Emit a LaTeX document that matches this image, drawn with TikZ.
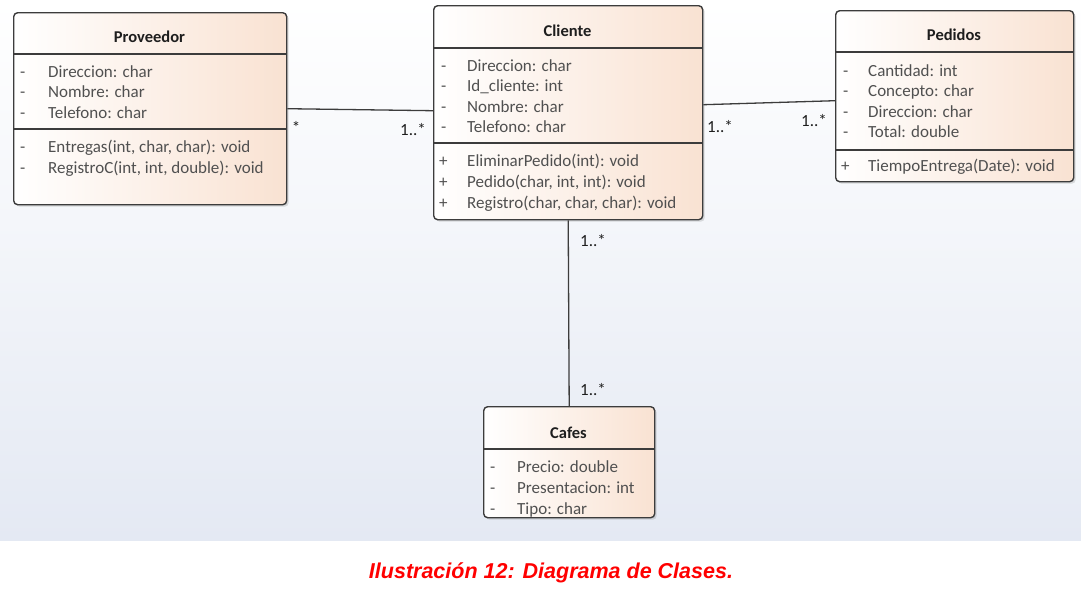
\documentclass[tikz,border=0pt]{standalone}
\usepackage{fontspec}
\setmainfont{Carlito}
\newfontfamily\capfont{Liberation Sans}
\usetikzlibrary{shadows,calc}
\definecolor{bgbot}{RGB}{228,233,243}
\definecolor{peach}{RGB}{249,226,210}
\definecolor{edge}{RGB}{60,60,60}
\definecolor{txt}{RGB}{80,80,80}
\definecolor{ttl}{RGB}{30,30,30}
\tikzset{
  classbox/.style={draw=edge, line width=1.4pt, rounded corners=4pt, left color=white, right color=peach,
    drop shadow={shadow xshift=2pt, shadow yshift=-2pt, opacity=0.25}, inner sep=0pt},
  divider/.style={draw=edge, line width=1.3pt},
  attr/.style={anchor=base west, inner sep=0pt, text=txt, font=\fontsize{17}{19}\selectfont},
  ctitle/.style={anchor=center, inner sep=0pt, text=ttl, font=\bfseries\fontsize{16.5}{18}\selectfont},
  assoc/.style={draw=edge, line width=1.3pt},
  mult/.style={inner sep=0pt, text=ttl, font=\fontsize{17}{19}\selectfont},
}
\begin{document}
\begin{tikzpicture}[x=1pt,y=-1pt]
\useasboundingbox (0,0) rectangle (1081,595);
\fill[white] (0,0) rectangle (1081,595);
\shade[top color=white, bottom color=bgbot] (0,0) rectangle (1081,540);

% Proveedor
\node[classbox, anchor=north west, minimum width=273pt, minimum height=192pt] (prov) at (13,12) {};
\draw[divider] (13,54) -- (286,54);
\draw[divider] (13,129) -- (286,129);
\node[ctitle] (provt) at (149.5,37) {Proveedor};
\node[attr] (pv1) at (20,77) {-};  \node[attr] (pa1) at (48,77) {Direccion: char};
\node[attr] (pv2) at (20,97) {-};  \node[attr] (pa2) at (48,97) {Nombre: char};
\node[attr] (pv3) at (20,118) {-}; \node[attr] (pa3) at (48,118) {Telefono: char};
\node[attr] (pv4) at (20,152) {-}; \node[attr] (pm1) at (48,152) {Entregas(int, char, char): void};
\node[attr] (pv5) at (20,173) {-}; \node[attr] (pm2) at (48,173) {RegistroC(int, int, double): void};

% Cliente
\node[classbox, anchor=north west, minimum width=269pt, minimum height=214pt] (cli) at (433,5) {};
\draw[divider] (433,48) -- (702,48);
\draw[divider] (433,143) -- (702,143);
\node[ctitle] (clit) at (567.5,31) {Cliente};
\node[attr] (cv1) at (441,71) {-};  \node[attr] (ca1) at (467,71) {Direccion: char};
\node[attr] (cv2) at (441,91) {-};  \node[attr] (ca2) at (467,91) {Id\_cliente: int};
\node[attr] (cv3) at (441,112) {-}; \node[attr] (ca3) at (467,112) {Nombre: char};
\node[attr] (cv4) at (441,132) {-}; \node[attr] (ca4) at (467,132) {Telefono: char};
\node[attr] (cv5) at (439,166) {+}; \node[attr] (cm1) at (467,166) {EliminarPedido(int): void};
\node[attr] (cv6) at (439,187) {+}; \node[attr] (cm2) at (467,187) {Pedido(char, int, int): void};
\node[attr] (cv7) at (439,208) {+}; \node[attr] (cm3) at (467,208) {Registro(char, char, char): void};

% Pedidos
\node[classbox, anchor=north west, minimum width=238pt, minimum height=171pt] (ped) at (835,10) {};
\draw[divider] (835,52) -- (1073,52);
\draw[divider] (835,150) -- (1073,150);
\node[ctitle] (pedt) at (954,35) {Pedidos};
\node[attr] (dv1) at (843,76) {-};  \node[attr] (da1) at (868,76) {Cantidad: int};
\node[attr] (dv2) at (843,96) {-};  \node[attr] (da2) at (868,96) {Concepto: char};
\node[attr] (dv3) at (843,117) {-}; \node[attr] (da3) at (868,117) {Direccion: char};
\node[attr] (dv4) at (843,137) {-}; \node[attr] (da4) at (868,137) {Total: double};
\node[attr] (dv5) at (841,171) {+}; \node[attr] (dm1) at (868,171) {TiempoEntrega(Date): void};

% Cafes
\node[classbox, anchor=north west, minimum width=171pt, minimum height=111pt] (caf) at (483,406) {};
\draw[divider] (483,449) -- (654,449);
\node[ctitle] (caft) at (568.5,433) {Cafes};
\node[attr] (fv1) at (490,472) {-}; \node[attr] (fa1) at (517,472) {Precio: double};
\node[attr] (fv2) at (490,493) {-}; \node[attr] (fa2) at (517,493) {Presentacion: int};
\node[attr] (fv3) at (490,514) {-}; \node[attr] (fa3) at (517,514) {Tipo: char};

% associations
\draw[assoc] (prov.east) -- ($(cli.west)+(0,-2)$);
\draw[assoc] ($(cli.east)+(0,-8)$) -- ($(ped.west)+(0,4.5)$);
\draw[assoc] (cli.south) -- (caf.north);

\node[mult, anchor=center] (m1) at (296,127) {*};
\node[mult, anchor=east] (m2) at (426,130) {1..*};
\node[mult, anchor=west] (m3) at (707,127) {1..*};
\node[mult, anchor=east] (m4) at (827,121) {1..*};
\node[mult, anchor=west] (m5) at (580,241) {1..*};
\node[mult, anchor=west] (m6) at (580,390) {1..*};

% caption
\node[inner sep=0pt, text=red, font=\capfont\bfseries\itshape\fontsize{21.5}{24}\selectfont] (cap) at (551,573) {Ilustración 12: Diagrama de Clases.};
\end{tikzpicture}
\end{document}
